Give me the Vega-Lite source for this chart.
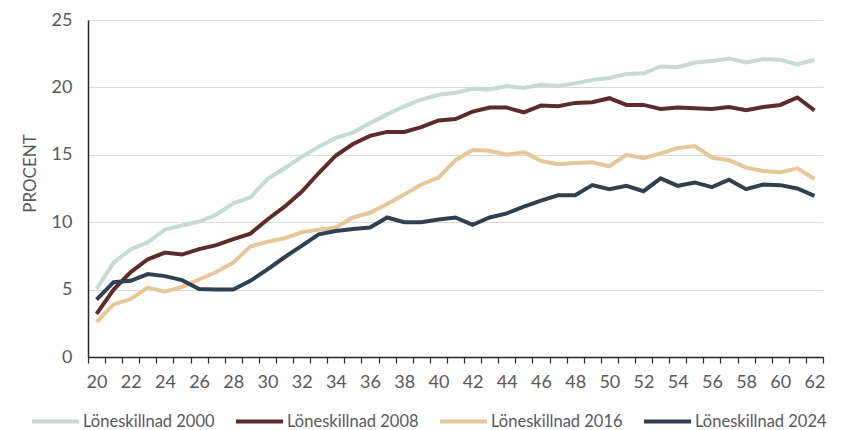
{
  "$schema": "https://vega.github.io/schema/vega-lite/v6.json",
  "width": 735,
  "height": 337,
  "autosize": {"type": "none"},
  "padding": {"left": 88, "top": 20, "right": 18, "bottom": 73},
  "background": "white",
  "config": {
    "font": "Lato",
    "view": {"stroke": null},
    "axis": {"labelFont": "Lato", "titleFont": "Lato", "labelColor": "#595959", "titleColor": "#595959"}
  },
  "datasets": {
    "d": [
      {"age":20,"s":"Löneskillnad 2000","v":5.05},{"age":21,"s":"Löneskillnad 2000","v":7.0},{"age":22,"s":"Löneskillnad 2000","v":8.0},{"age":23,"s":"Löneskillnad 2000","v":8.5},{"age":24,"s":"Löneskillnad 2000","v":9.45},{"age":25,"s":"Löneskillnad 2000","v":9.75},{"age":26,"s":"Löneskillnad 2000","v":10.05},{"age":27,"s":"Löneskillnad 2000","v":10.55},{"age":28,"s":"Löneskillnad 2000","v":11.4},{"age":29,"s":"Löneskillnad 2000","v":11.85},{"age":30,"s":"Löneskillnad 2000","v":13.2},{"age":31,"s":"Löneskillnad 2000","v":14.0},{"age":32,"s":"Löneskillnad 2000","v":14.85},{"age":33,"s":"Löneskillnad 2000","v":15.6},{"age":34,"s":"Löneskillnad 2000","v":16.25},{"age":35,"s":"Löneskillnad 2000","v":16.65},{"age":36,"s":"Löneskillnad 2000","v":17.35},{"age":37,"s":"Löneskillnad 2000","v":18.0},{"age":38,"s":"Löneskillnad 2000","v":18.6},{"age":39,"s":"Löneskillnad 2000","v":19.1},{"age":40,"s":"Löneskillnad 2000","v":19.45},{"age":41,"s":"Löneskillnad 2000","v":19.6},{"age":42,"s":"Löneskillnad 2000","v":19.9},{"age":43,"s":"Löneskillnad 2000","v":19.85},{"age":44,"s":"Löneskillnad 2000","v":20.1},{"age":45,"s":"Löneskillnad 2000","v":19.95},{"age":46,"s":"Löneskillnad 2000","v":20.2},{"age":47,"s":"Löneskillnad 2000","v":20.1},{"age":48,"s":"Löneskillnad 2000","v":20.3},{"age":49,"s":"Löneskillnad 2000","v":20.55},{"age":50,"s":"Löneskillnad 2000","v":20.7},{"age":51,"s":"Löneskillnad 2000","v":21.0},{"age":52,"s":"Löneskillnad 2000","v":21.05},{"age":53,"s":"Löneskillnad 2000","v":21.55},{"age":54,"s":"Löneskillnad 2000","v":21.5},{"age":55,"s":"Löneskillnad 2000","v":21.85},{"age":56,"s":"Löneskillnad 2000","v":21.95},{"age":57,"s":"Löneskillnad 2000","v":22.15},{"age":58,"s":"Löneskillnad 2000","v":21.85},{"age":59,"s":"Löneskillnad 2000","v":22.1},{"age":60,"s":"Löneskillnad 2000","v":22.05},{"age":61,"s":"Löneskillnad 2000","v":21.7},{"age":62,"s":"Löneskillnad 2000","v":22.05},
      {"age":20,"s":"Löneskillnad 2008","v":3.2},{"age":21,"s":"Löneskillnad 2008","v":5.0},{"age":22,"s":"Löneskillnad 2008","v":6.3},{"age":23,"s":"Löneskillnad 2008","v":7.25},{"age":24,"s":"Löneskillnad 2008","v":7.75},{"age":25,"s":"Löneskillnad 2008","v":7.6},{"age":26,"s":"Löneskillnad 2008","v":8.0},{"age":27,"s":"Löneskillnad 2008","v":8.3},{"age":28,"s":"Löneskillnad 2008","v":8.75},{"age":29,"s":"Löneskillnad 2008","v":9.15},{"age":30,"s":"Löneskillnad 2008","v":10.2},{"age":31,"s":"Löneskillnad 2008","v":11.15},{"age":32,"s":"Löneskillnad 2008","v":12.25},{"age":33,"s":"Löneskillnad 2008","v":13.65},{"age":34,"s":"Löneskillnad 2008","v":14.95},{"age":35,"s":"Löneskillnad 2008","v":15.8},{"age":36,"s":"Löneskillnad 2008","v":16.4},{"age":37,"s":"Löneskillnad 2008","v":16.7},{"age":38,"s":"Löneskillnad 2008","v":16.7},{"age":39,"s":"Löneskillnad 2008","v":17.05},{"age":40,"s":"Löneskillnad 2008","v":17.55},{"age":41,"s":"Löneskillnad 2008","v":17.65},{"age":42,"s":"Löneskillnad 2008","v":18.2},{"age":43,"s":"Löneskillnad 2008","v":18.5},{"age":44,"s":"Löneskillnad 2008","v":18.5},{"age":45,"s":"Löneskillnad 2008","v":18.15},{"age":46,"s":"Löneskillnad 2008","v":18.65},{"age":47,"s":"Löneskillnad 2008","v":18.6},{"age":48,"s":"Löneskillnad 2008","v":18.85},{"age":49,"s":"Löneskillnad 2008","v":18.9},{"age":50,"s":"Löneskillnad 2008","v":19.2},{"age":51,"s":"Löneskillnad 2008","v":18.7},{"age":52,"s":"Löneskillnad 2008","v":18.7},{"age":53,"s":"Löneskillnad 2008","v":18.4},{"age":54,"s":"Löneskillnad 2008","v":18.5},{"age":55,"s":"Löneskillnad 2008","v":18.45},{"age":56,"s":"Löneskillnad 2008","v":18.4},{"age":57,"s":"Löneskillnad 2008","v":18.55},{"age":58,"s":"Löneskillnad 2008","v":18.3},{"age":59,"s":"Löneskillnad 2008","v":18.55},{"age":60,"s":"Löneskillnad 2008","v":18.7},{"age":61,"s":"Löneskillnad 2008","v":19.25},{"age":62,"s":"Löneskillnad 2008","v":18.3},
      {"age":20,"s":"Löneskillnad 2016","v":2.6},{"age":21,"s":"Löneskillnad 2016","v":3.9},{"age":22,"s":"Löneskillnad 2016","v":4.3},{"age":23,"s":"Löneskillnad 2016","v":5.15},{"age":24,"s":"Löneskillnad 2016","v":4.85},{"age":25,"s":"Löneskillnad 2016","v":5.2},{"age":26,"s":"Löneskillnad 2016","v":5.75},{"age":27,"s":"Löneskillnad 2016","v":6.3},{"age":28,"s":"Löneskillnad 2016","v":7.0},{"age":29,"s":"Löneskillnad 2016","v":8.2},{"age":30,"s":"Löneskillnad 2016","v":8.55},{"age":31,"s":"Löneskillnad 2016","v":8.8},{"age":32,"s":"Löneskillnad 2016","v":9.25},{"age":33,"s":"Löneskillnad 2016","v":9.45},{"age":34,"s":"Löneskillnad 2016","v":9.6},{"age":35,"s":"Löneskillnad 2016","v":10.35},{"age":36,"s":"Löneskillnad 2016","v":10.7},{"age":37,"s":"Löneskillnad 2016","v":11.35},{"age":38,"s":"Löneskillnad 2016","v":12.05},{"age":39,"s":"Löneskillnad 2016","v":12.8},{"age":40,"s":"Löneskillnad 2016","v":13.3},{"age":41,"s":"Löneskillnad 2016","v":14.6},{"age":42,"s":"Löneskillnad 2016","v":15.35},{"age":43,"s":"Löneskillnad 2016","v":15.3},{"age":44,"s":"Löneskillnad 2016","v":15.0},{"age":45,"s":"Löneskillnad 2016","v":15.2},{"age":46,"s":"Löneskillnad 2016","v":14.55},{"age":47,"s":"Löneskillnad 2016","v":14.3},{"age":48,"s":"Löneskillnad 2016","v":14.4},{"age":49,"s":"Löneskillnad 2016","v":14.45},{"age":50,"s":"Löneskillnad 2016","v":14.15},{"age":51,"s":"Löneskillnad 2016","v":15.0},{"age":52,"s":"Löneskillnad 2016","v":14.75},{"age":53,"s":"Löneskillnad 2016","v":15.1},{"age":54,"s":"Löneskillnad 2016","v":15.5},{"age":55,"s":"Löneskillnad 2016","v":15.65},{"age":56,"s":"Löneskillnad 2016","v":14.8},{"age":57,"s":"Löneskillnad 2016","v":14.6},{"age":58,"s":"Löneskillnad 2016","v":14.05},{"age":59,"s":"Löneskillnad 2016","v":13.8},{"age":60,"s":"Löneskillnad 2016","v":13.7},{"age":61,"s":"Löneskillnad 2016","v":14.0},{"age":62,"s":"Löneskillnad 2016","v":13.2},
      {"age":20,"s":"Löneskillnad 2024","v":4.25},{"age":21,"s":"Löneskillnad 2024","v":5.55},{"age":22,"s":"Löneskillnad 2024","v":5.65},{"age":23,"s":"Löneskillnad 2024","v":6.15},{"age":24,"s":"Löneskillnad 2024","v":6.0},{"age":25,"s":"Löneskillnad 2024","v":5.7},{"age":26,"s":"Löneskillnad 2024","v":5.05},{"age":27,"s":"Löneskillnad 2024","v":5.0},{"age":28,"s":"Löneskillnad 2024","v":5.0},{"age":29,"s":"Löneskillnad 2024","v":5.65},{"age":30,"s":"Löneskillnad 2024","v":6.5},{"age":31,"s":"Löneskillnad 2024","v":7.4},{"age":32,"s":"Löneskillnad 2024","v":8.25},{"age":33,"s":"Löneskillnad 2024","v":9.1},{"age":34,"s":"Löneskillnad 2024","v":9.35},{"age":35,"s":"Löneskillnad 2024","v":9.5},{"age":36,"s":"Löneskillnad 2024","v":9.6},{"age":37,"s":"Löneskillnad 2024","v":10.35},{"age":38,"s":"Löneskillnad 2024","v":10.0},{"age":39,"s":"Löneskillnad 2024","v":10.0},{"age":40,"s":"Löneskillnad 2024","v":10.2},{"age":41,"s":"Löneskillnad 2024","v":10.35},{"age":42,"s":"Löneskillnad 2024","v":9.8},{"age":43,"s":"Löneskillnad 2024","v":10.35},{"age":44,"s":"Löneskillnad 2024","v":10.65},{"age":45,"s":"Löneskillnad 2024","v":11.15},{"age":46,"s":"Löneskillnad 2024","v":11.6},{"age":47,"s":"Löneskillnad 2024","v":12.0},{"age":48,"s":"Löneskillnad 2024","v":12.0},{"age":49,"s":"Löneskillnad 2024","v":12.75},{"age":50,"s":"Löneskillnad 2024","v":12.45},{"age":51,"s":"Löneskillnad 2024","v":12.7},{"age":52,"s":"Löneskillnad 2024","v":12.3},{"age":53,"s":"Löneskillnad 2024","v":13.25},{"age":54,"s":"Löneskillnad 2024","v":12.7},{"age":55,"s":"Löneskillnad 2024","v":12.95},{"age":56,"s":"Löneskillnad 2024","v":12.6},{"age":57,"s":"Löneskillnad 2024","v":13.15},{"age":58,"s":"Löneskillnad 2024","v":12.45},{"age":59,"s":"Löneskillnad 2024","v":12.8},{"age":60,"s":"Löneskillnad 2024","v":12.75},{"age":61,"s":"Löneskillnad 2024","v":12.5},{"age":62,"s":"Löneskillnad 2024","v":11.95}
    ]
  },
  "data": {"name": "d"},
  "resolve": {"axis": {"x": "independent"}},
  "layer": [
    {
      "mark": {"type": "line", "strokeWidth": 0, "strokeOpacity": 0},
      "encoding": {
        "x": {"field": "age", "type": "quantitative", "scale": {"domain": [19.5, 62.5], "nice": false, "zero": false},
          "axis": {"orient": "bottom", "values": [19.5,20.5,21.5,22.5,23.5,24.5,25.5,26.5,27.5,28.5,29.5,30.5,31.5,32.5,33.5,34.5,35.5,36.5,37.5,38.5,39.5,40.5,41.5,42.5,43.5,44.5,45.5,46.5,47.5,48.5,49.5,50.5,51.5,52.5,53.5,54.5,55.5,56.5,57.5,58.5,59.5,60.5,61.5,62.5],
            "labels": false, "title": null, "grid": false, "domain": true, "domainColor": "#262626", "domainWidth": 1.5, "ticks": true, "tickColor": "#262626", "tickWidth": 1.2, "tickSize": 6}},
        "y": {"field": "v", "type": "quantitative"},
        "detail": {"field": "s"}
      }
    },
    {
      "mark": {"type": "line", "strokeWidth": 4},
      "encoding": {
        "x": {"field": "age", "type": "quantitative",
          "axis": {"orient": "bottom", "values": [20,22,24,26,28,30,32,34,36,38,40,42,44,46,48,50,52,54,56,58,60,62],
            "title": null, "grid": false, "domain": false, "ticks": false, "labelFontSize": 18, "labelPadding": 16, "labelColor": "#595959"}},
        "y": {"field": "v", "type": "quantitative", "scale": {"domain": [0, 25], "nice": false},
          "axis": {"values": [0,5,10,15,20,25], "title": "PROCENT", "titleFontSize": 17, "titleFontWeight": "normal", "titleX": -58, "titleY": 153, "titleAngle": -90, "titleAlign": "center", "titleBaseline": "middle",
            "labelFontSize": 18, "labelPadding": 16, "ticks": false, "domain": true, "domainColor": "#262626", "domainWidth": 1.5, "grid": true, "gridColor": "#d9d9d9", "gridWidth": 1.2}},
        "color": {"field": "s", "type": "nominal",
          "scale": {"domain": ["Löneskillnad 2000","Löneskillnad 2008","Löneskillnad 2016","Löneskillnad 2024"], "range": ["#c6dad6","#5e2b2d","#e6c79a","#2f414f"]},
          "legend": {"title": null, "orient": "none", "legendX": -58, "legendY": 376, "direction": "horizontal", "columns": 4, "symbolType": "stroke", "symbolSize": 2209, "symbolStrokeWidth": 4, "labelFontSize": 16.5, "labelColor": "#595959", "labelOffset": 2, "columnPadding": 13, "labelLimit": 300}}
      }
    }
  ]
}
